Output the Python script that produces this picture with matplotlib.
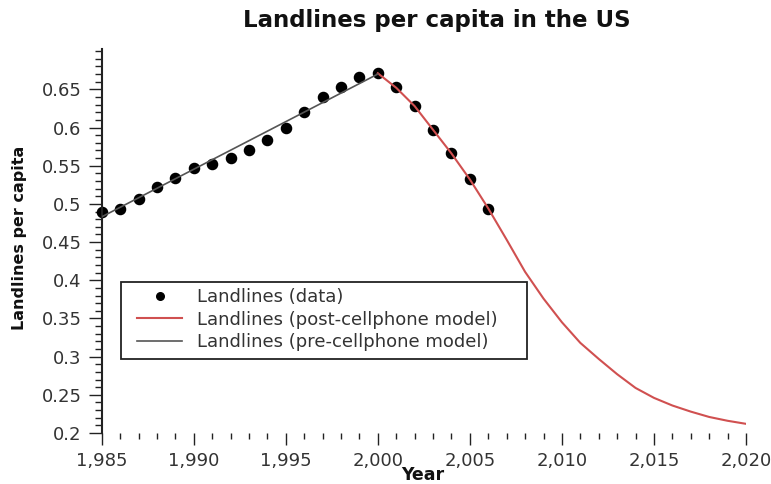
import matplotlib
matplotlib.use("Agg")
import matplotlib.pyplot as plt
from matplotlib.patches import Rectangle
from matplotlib.ticker import MultipleLocator, FixedLocator, FuncFormatter

# ---- data ----
data_years = [1985, 1986, 1987, 1988, 1989, 1990, 1991, 1992, 1993, 1994, 1995,
              1996, 1997, 1998, 1999, 2000, 2001, 2002, 2003, 2004, 2005, 2006]
data_values = [0.489, 0.493, 0.507, 0.522, 0.534, 0.547, 0.552, 0.560, 0.570, 0.584, 0.600,
               0.620, 0.640, 0.653, 0.666, 0.671, 0.653, 0.628, 0.597, 0.567, 0.533, 0.493]

pre_years = [1985, 2000]
pre_values = [0.483, 0.670]

post_years = [2000, 2001, 2002, 2003, 2004, 2005, 2006, 2007, 2008, 2009, 2010,
              2011, 2012, 2013, 2014, 2015, 2016, 2017, 2018, 2019, 2020]
post_values = [0.671, 0.652, 0.628, 0.597, 0.566, 0.532, 0.494, 0.453, 0.411, 0.376, 0.345,
               0.318, 0.297, 0.277, 0.259, 0.246, 0.236, 0.228, 0.221, 0.216, 0.212]

y_major_ticks = [0.2, 0.25, 0.3, 0.35, 0.4, 0.45, 0.5, 0.55, 0.6, 0.65]

labels = ["Landlines (data)", "Landlines (post-cellphone model)", "Landlines (pre-cellphone model)"]
title = "Landlines per capita in the US"
xlabel = "Year"
ylabel = "Landlines per capita"

W, H = 771, 484
fig = plt.figure(figsize=(W / 100, H / 100), dpi=100)
left, right, top, bottom = 101.7, 746.0, 49.3, 433.0
ax = fig.add_axes([left / W, 1 - bottom / H, (right - left) / W, (bottom - top) / H])

txt_col = "#333333"
ax.plot(data_years, data_values, linestyle="none", marker="o", color="black",
        markersize=7.3, label=labels[0], zorder=2, clip_on=False)
ax.plot(post_years, post_values, color="#d05050", lw=1.5, label=labels[1], zorder=3)
ax.plot(pre_years, pre_values, color="#555555", lw=1.2, label=labels[2], zorder=3)

ax.set_xlim(1985, 2020)
ax.set_ylim(0.2, 0.7024)

for s in ["top", "right", "bottom"]:
    ax.spines[s].set_visible(False)
ax.spines["left"].set_linewidth(1.5)
ax.spines["left"].set_color("#222222")

ax.xaxis.set_major_locator(MultipleLocator(5))
ax.xaxis.set_minor_locator(MultipleLocator(1))
ax.yaxis.set_major_locator(FixedLocator(y_major_ticks))
ax.yaxis.set_minor_locator(MultipleLocator(0.01))
ax.xaxis.set_major_formatter(FuncFormatter(lambda v, p: f"{int(round(v)):,}"))
ax.yaxis.set_major_formatter(FuncFormatter(lambda v, p: f"{v:.2f}".rstrip("0").rstrip(".")))

ax.tick_params(axis="y", which="major", direction="out", length=9.4, width=1.0,
               color="#222222", labelsize=13, labelcolor=txt_col, pad=5)
ax.tick_params(axis="y", which="minor", direction="out", length=5, width=1.0, color="#222222")
ax.tick_params(axis="x", which="major", direction="out", length=8.6, width=1.0,
               color="#222222", labelsize=13, labelcolor=txt_col, pad=5)
ax.tick_params(axis="x", which="minor", direction="out", length=4.3, width=1.0, color="#222222")

fig.text(437 / W, 1 - 20 / H, title, ha="center", va="center",
         fontsize=16.5, fontweight="bold", color="#111111")
fig.text(423 / W, 1 - 475 / H, xlabel, ha="center", va="center",
         fontsize=12.5, fontweight="bold", color="#111111")
fig.text(20 / W, 1 - 238 / H, ylabel, ha="center", va="center", rotation=90,
         fontsize=11.5, fontweight="bold", color="#111111")

# legend box drawn as a figure rectangle (pixel geometry from the reference)
bx0, by0, bx1, by1 = 120.7, 281.7, 526.7, 359.0
fig.patches.append(Rectangle((bx0 / W, 1 - by1 / H), (bx1 - bx0) / W, (by1 - by0) / H,
                             transform=fig.transFigure, facecolor="white",
                             edgecolor="#222222", linewidth=1.3, zorder=4))

h, l = ax.get_legend_handles_labels()
leg = fig.legend(h, l,
                 loc="upper left", bbox_to_anchor=(137 / W, 1 - 288 / H),
                 bbox_transform=fig.transFigure, borderaxespad=0,
                 fontsize=13, frameon=False,
                 handlelength=2.5, handletextpad=0.83,
                 labelspacing=0.26, borderpad=0, markerscale=0.75)
leg.set_zorder(5)
for t in leg.get_texts():
    t.set_color(txt_col)

fig.savefig("out.png", dpi=100)
